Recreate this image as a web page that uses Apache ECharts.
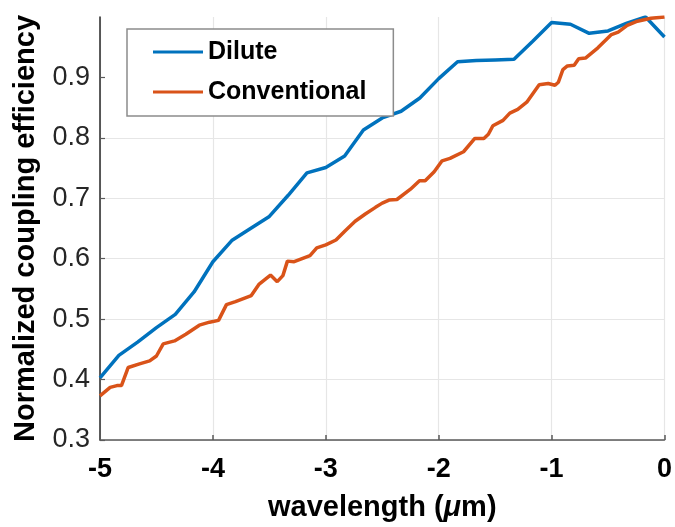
<!DOCTYPE html>
<html>
<head>
<meta charset="utf-8">
<script src="https://cdn.jsdelivr.net/npm/echarts@6/dist/echarts.min.js"></script>
<style>
html, body { margin: 0; padding: 0; background: #fff; }
#chart { width: 675px; height: 527px; }
</style>
</head>
<body>
<div id="chart"></div>
<script>
// values
var seriesNames = ['Dilute', 'Conventional'];

var diluteX = [-5, -4.833, -4.667, -4.5, -4.333, -4.167, -4, -3.833, -3.667, -3.5,
    -3.333, -3.167, -3, -2.833, -2.667, -2.5, -2.333, -2.167, -2, -1.833,
    -1.667, -1.5, -1.333, -1.167, -1, -0.833, -0.667, -0.5, -0.333, -0.167, 0];
var diluteY = [0.403, 0.440, 0.462, 0.486, 0.508, 0.545, 0.595, 0.630, 0.650, 0.670,
    0.705, 0.742, 0.751, 0.770, 0.813, 0.833, 0.844, 0.866, 0.898, 0.926,
    0.928, 0.929, 0.930, 0.960, 0.991, 0.988, 0.973, 0.977, 0.990, 1.0, 0.967];

var convX = [-5, -4.91, -4.85, -4.81, -4.75, -4.65, -4.56, -4.5, -4.44, -4.34,
    -4.24, -4.12, -4.03, -3.95, -3.88, -3.8, -3.66, -3.59, -3.49, -3.43,
    -3.38, -3.34, -3.28, -3.14, -3.08, -3, -2.91, -2.83, -2.74, -2.65,
    -2.56, -2.5, -2.44, -2.37, -2.25, -2.17, -2.12, -2.04, -1.97, -1.9,
    -1.78, -1.68, -1.6, -1.56, -1.52, -1.43, -1.37, -1.3, -1.22, -1.11,
    -1.03, -0.97, -0.94, -0.9, -0.86, -0.8, -0.76, -0.7, -0.59, -0.47,
    -0.41, -0.33, -0.24, -0.12, 0];
var convY = [0.373, 0.387, 0.390, 0.390, 0.420, 0.426, 0.431, 0.439, 0.459, 0.464,
    0.475, 0.490, 0.495, 0.498, 0.524, 0.529, 0.539, 0.558, 0.573, 0.562,
    0.572, 0.596, 0.595, 0.605, 0.618, 0.623, 0.631, 0.646, 0.662, 0.674,
    0.685, 0.692, 0.697, 0.698, 0.715, 0.729, 0.729, 0.744, 0.762, 0.766,
    0.777, 0.799, 0.799, 0.806, 0.820, 0.829, 0.841, 0.847, 0.859, 0.888,
    0.890, 0.887, 0.892, 0.913, 0.919, 0.920, 0.931, 0.932, 0.949, 0.971,
    0.975, 0.986, 0.993, 0.998, 1.0];

var xTicks = [-5, -4, -3, -2, -1, 0];
var yTicks = [0.3, 0.4, 0.5, 0.6, 0.7, 0.8, 0.9];

function pairs(xs, ys) {
    return xs.map(function (x, i) { return [x, ys[i]]; });
}

var chart = echarts.init(document.getElementById('chart'));
var font = 'Liberation Sans, Arial, sans-serif';

var option = {
    backgroundColor: '#fff',
    animation: false,
    color: ['#0072BD', '#D95319'],
    grid: { left: 100, right: 8, top: 17, bottom: 86 },
    legend: {
        data: seriesNames.map(function (n) { return { name: n, icon: 'rect' }; }),
        orient: 'vertical',
        left: 127,
        top: 29,
        padding: [8, 27, 9, 26],
        itemWidth: 50,
        itemHeight: 3,
        itemGap: 10,
        backgroundColor: '#fff',
        borderColor: '#8c8c8c',
        borderWidth: 1.5,
        borderRadius: 0,
        textStyle: {
            fontFamily: font,
            fontSize: 25,
            fontWeight: 'bold',
            color: '#000',
            lineHeight: 30
        }
    },
    xAxis: {
        type: 'value',
        min: -5,
        max: 0,
        interval: 1,
        name: 'wavelength ({i|μ}m)',
        nameLocation: 'middle',
        nameGap: 53,
        nameTextStyle: {
            fontFamily: font, fontSize: 29, fontWeight: 'bold', color: '#000',
            rich: {
                i: { fontFamily: font, fontSize: 29, fontWeight: 'bold', fontStyle: 'italic', color: '#000' }
            }
        },
        axisLine: { onZero: false, lineStyle: { color: '#5a5a5a', width: 1.5 } },
        axisTick: { inside: true, length: 5, customValues: xTicks, lineStyle: { color: '#5a5a5a', width: 1.5 } },
        axisLabel: {
            customValues: xTicks,
            margin: 16,
            fontFamily: font, fontSize: 27, fontWeight: 'bold', color: '#000'
        },
        splitLine: { show: true, lineStyle: { color: '#e6e6e6', width: 1.2 } }
    },
    yAxis: {
        type: 'value',
        min: 0.3,
        max: 1.0,
        interval: 0.1,
        name: 'Normalized coupling efficiency',
        nameLocation: 'middle',
        nameGap: 60,
        nameTextStyle: { fontFamily: font, fontSize: 29, fontWeight: 'bold', color: '#000' },
        axisLine: { show: true, onZero: false, lineStyle: { color: '#262626', width: 1.5 } },
        axisTick: { show: true, inside: true, length: 5, customValues: yTicks, lineStyle: { color: '#5a5a5a', width: 1.2 } },
        axisLabel: {
            customValues: yTicks,
            margin: 10,
            fontFamily: font, fontSize: 27, color: '#262626',
            formatter: function (v) { return v.toFixed(1); }
        },
        splitLine: { show: true, showMaxLine: false, lineStyle: { color: '#e6e6e6', width: 1.2 } }
    },
    series: [
        {
            name: seriesNames[0],
            type: 'line',
            symbol: 'none',
            lineStyle: { width: 3.5 },
            data: pairs(diluteX, diluteY)
        },
        {
            name: seriesNames[1],
            type: 'line',
            symbol: 'none',
            lineStyle: { width: 3.5 },
            data: pairs(convX, convY)
        }
    ]
};

chart.setOption(option);
</script>
</body>
</html>
